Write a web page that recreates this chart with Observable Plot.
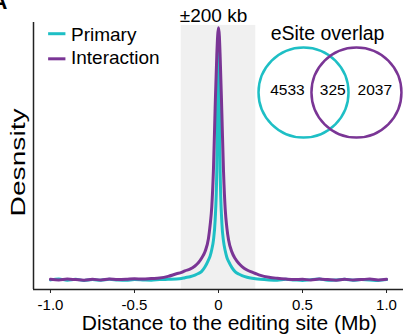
<!DOCTYPE html>
<html><head><meta charset="utf-8">
<script src="https://cdn.jsdelivr.net/npm/d3@7"></script>
<script src="https://cdn.jsdelivr.net/npm/@observablehq/plot@0.6"></script>
<style>body{margin:0;background:#fff;}</style>
</head><body><div id="chart"></div>
<script>
// Distance to editing site (Mb)
const distance = [
  -1.0,-0.95,-0.9,-0.85,-0.8,-0.75,-0.7,-0.65,-0.6,-0.55,-0.5,-0.45,-0.4,-0.35,-0.3,
  -0.25,-0.22,-0.2,-0.17,-0.14,-0.12,-0.1,-0.08,-0.06,-0.05,-0.04,-0.03,-0.02,-0.01,-0.005,
  0,
  0.005,0.01,0.02,0.03,0.04,0.05,0.06,0.08,0.1,0.12,0.14,0.17,0.2,0.22,0.25,
  0.3,0.35,0.4,0.45,0.5,0.55,0.6,0.65,0.7,0.75,0.8,0.85,0.9,0.95,1.0
];
// Density (arbitrary units)
const primary = [
  3.6,3.9,3.5,3.8,3.4,3.7,3.5,3.8,3.6,3.5,3.7,3.6,3.5,3.7,3.8,
  3.9,4.1,4.4,4.8,5.4,6.0,6.8,8.5,11,12.5,15,18.5,26,45,72,
  90,
  72,44,25,18,14.5,12,10.5,8.2,6.6,5.8,5.2,4.6,4.2,4.0,3.8,
  3.6,3.5,3.8,3.6,3.4,3.7,3.9,3.5,3.6,3.8,3.5,3.7,3.6,3.4,3.7
];
const interaction = [
  3.8,3.6,3.9,3.7,3.5,3.8,3.6,3.9,3.7,3.8,4.0,3.9,4.1,4.3,4.9,
  5.9,6.4,7.0,7.6,8.8,10.0,11.8,14.2,19,24,31,45,68,88,95,
  98,
  95,87,66,44,30,23,18.5,14,11.5,9.8,8.6,7.3,6.5,6.0,5.3,
  4.6,4.2,3.9,3.7,3.8,3.6,3.9,3.7,3.5,3.8,3.6,3.7,3.9,3.6,3.8
];
const xTicks = [-1, -0.5, 0, 0.5, 1];
const seriesNames = ["Primary", "Interaction"];
const vennCounts = [4533, 325, 2037];
const vennTitle = "eSite overlap";
const windowHalf = 0.222;
const windowLabel = "±200 kb";
const xTitle = "Distance to the editing site (Mb)";
const yTitle = "Desnsity";
const panelLabel = "A";

const TEAL = "#1ebfc5";
const PURPLE = "#7a3595";
const FONT = "Liberation Sans, Arial, Helvetica, sans-serif";
const X0 = -1.101, X1 = 1.101;

const primaryRows = distance.map((d, i) => ({x: d, y: primary[i]}));
const interactionRows = distance.map((d, i) => ({x: d, y: interaction[i]}));

const legendRows = [
  {name: seriesNames[0], color: TEAL, y: 95.8, ty: 93.0},
  {name: seriesNames[1], color: PURPLE, y: 86.4, ty: 84.3}
];
const vennCircles = [
  {x: 0.506, y: 73.8, color: TEAL},
  {x: 0.821, y: 73.8, color: PURPLE}
];
const vennLabels = [
  {x: 0.41, y: 72.7, t: String(vennCounts[0])},
  {x: 0.68, y: 72.7, t: String(vennCounts[1])},
  {x: 0.93, y: 72.7, t: String(vennCounts[2])}
];

const chart = Plot.plot({
  width: 403, height: 336,
  marginLeft: 33, marginRight: 0, marginTop: 22, marginBottom: 47,
  style: {fontFamily: FONT, background: "#fff", color: "#000", overflow: "visible"},
  x: {domain: [X0, X1], axis: null},
  y: {domain: [0, 100], axis: null},
  marks: [
    Plot.rect([{}], {x1: -windowHalf, x2: windowHalf, y1: 0, y2: 98.9, fill: "#f0f0f0"}),
    Plot.ruleY([0], {stroke: "#222", strokeWidth: 1.5}),
    Plot.ruleX([X0], {y1: 0, y2: 100, stroke: "#222", strokeWidth: 1.5}),
    Plot.line(primaryRows, {x: "x", y: "y", stroke: TEAL, strokeWidth: 3, curve: "monotone-x"}),
    Plot.line(interactionRows, {x: "x", y: "y", stroke: PURPLE, strokeWidth: 3, curve: "monotone-x"}),
    Plot.axisX({ticks: xTicks, tickFormat: d => d === 0 ? "0" : d.toFixed(1), tickSize: 4, tickPadding: 6, fontSize: 15, label: null, stroke: "#222"}),
    Plot.text([xTitle], {x: 0.065, y: -15.3, text: d => d, fontSize: 21, lineAnchor: "bottom", textAnchor: "middle", fill: "#000"}),
    Plot.text([yTitle], {x: -1.192, y: 47.6, text: d => d, fontSize: 21, rotate: -90, lineAnchor: "middle", textAnchor: "middle", fill: "#000"}),
    Plot.text([windowLabel], {x: -0.03, y: 100.1, text: d => d, fontSize: 19, lineAnchor: "bottom", textAnchor: "middle", fill: "#000"}),
    Plot.link(legendRows.slice(0,1), {x1: -1.014, x2: -0.911, y1: "y", y2: "y", stroke: TEAL, strokeWidth: 3}),
    Plot.link(legendRows.slice(1,2), {x1: -1.014, x2: -0.911, y1: "y", y2: "y", stroke: PURPLE, strokeWidth: 3}),
    Plot.text(legendRows, {x: -0.878, y: "ty", text: "name", fontSize: 19, lineAnchor: "bottom", textAnchor: "start", fill: "#000"}),
    Plot.dot(vennCircles.slice(0,1), {x: "x", y: "y", r: 45, stroke: TEAL, strokeWidth: 2.5, fill: "none"}),
    Plot.dot(vennCircles.slice(1,2), {x: "x", y: "y", r: 45, stroke: PURPLE, strokeWidth: 2.5, fill: "none"}),
    Plot.text(vennLabels, {x: "x", y: "y", text: "t", fontSize: 15.5, lineAnchor: "bottom", textAnchor: "middle", fill: "#000"}),
    Plot.text([vennTitle], {x: 0.649, y: 93.5, text: d => d, fontSize: 19.5, lineAnchor: "bottom", textAnchor: "middle", fill: "#000"}),
    Plot.text([panelLabel], {x: -1.256, y: 104.9, text: d => d, fontSize: 22, fontWeight: "bold", lineAnchor: "bottom", textAnchor: "end", fill: "#000"})
  ]
});
document.getElementById("chart").appendChild(chart);
d3.select(chart).selectAll("text").filter(function() { return this.textContent === yTitle; })
  .attr("textLength", 108).attr("lengthAdjust", "spacingAndGlyphs");
</script>
</body></html>
